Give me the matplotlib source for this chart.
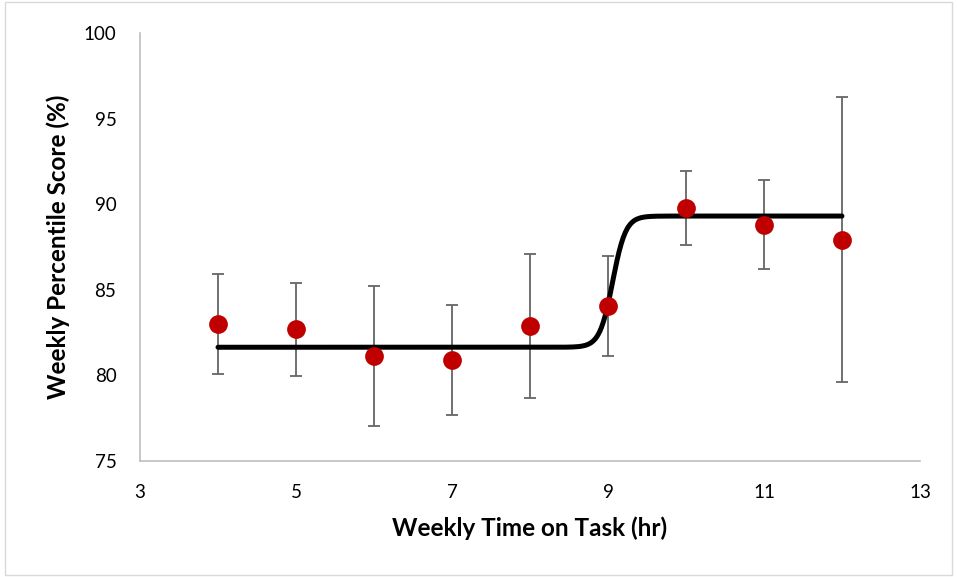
import numpy as np
import matplotlib
matplotlib.use("Agg")
import matplotlib.pyplot as plt
from matplotlib.patches import Rectangle

# Data
hours = [4, 5, 6, 7, 8, 9, 10, 11, 12]
scores = [83.01, 82.68, 81.12, 80.91, 82.88, 84.03, 89.75, 88.80, 87.90]
err_upper = [85.93, 85.39, 85.23, 84.12, 87.07, 86.99, 91.95, 91.39, 96.24]
err_lower = [80.07, 79.95, 77.03, 77.69, 78.69, 81.10, 87.59, 86.23, 79.59]

# Sigmoid fit parameters
fit_lower = 81.63
fit_upper = 89.30
fit_mid = 9.06
fit_slope = 12.0
fit_range = [4, 12]

x_ticks = [3, 5, 7, 9, 11, 13]
y_ticks = [75, 80, 85, 90, 95, 100]

plt.rcParams['font.family'] = ['Lato', 'DejaVu Sans']

fig = plt.figure(figsize=(9.57, 5.77), dpi=100)
fig.patches.append(Rectangle((0.005, 0.003), 0.99, 0.994, transform=fig.transFigure,
                             fill=False, edgecolor='#D9D9D9', linewidth=1.0))
ax = fig.add_axes([0.1463, 0.2016, 0.815, 0.7412])

xf = np.linspace(fit_range[0], fit_range[1], 600)
yf = fit_lower + (fit_upper - fit_lower) / (1 + np.exp(-fit_slope * (xf - fit_mid)))
ax.plot(xf, yf, color='black', linewidth=3.6, solid_capstyle='round', zorder=2)

s = np.array(scores)
yerr = [s - np.array(err_lower), np.array(err_upper) - s]
ax.errorbar(hours, scores, yerr=yerr, fmt='none', ecolor='#666666', elinewidth=1.3,
            capsize=4.2, capthick=1.3, zorder=1)
ax.plot(hours, scores, 'o', color='#C00000', markersize=13.5, markeredgewidth=0, zorder=3)

ax.set_xlim(3, 13)
ax.set_ylim(75, 100)
ax.set_xticks(x_ticks)
ax.set_yticks(y_ticks)
ax.tick_params(length=0, labelsize=13.5, colors='#000000')
ax.tick_params(axis='y', pad=17)
ax.tick_params(axis='x', pad=17)
for sp in ['top', 'right']:
    ax.spines[sp].set_visible(False)
for sp in ['left', 'bottom']:
    ax.spines[sp].set_color('#BFBFBF')
    ax.spines[sp].set_linewidth(1.2)

ax.set_xlabel('Weekly Time on Task (hr)', fontsize=17.5, fontweight='bold', labelpad=11)
ax.set_ylabel('Weekly Percentile Score (%)', fontsize=17.5, fontweight='bold', labelpad=10)

fig.savefig('out.png', dpi=100)
